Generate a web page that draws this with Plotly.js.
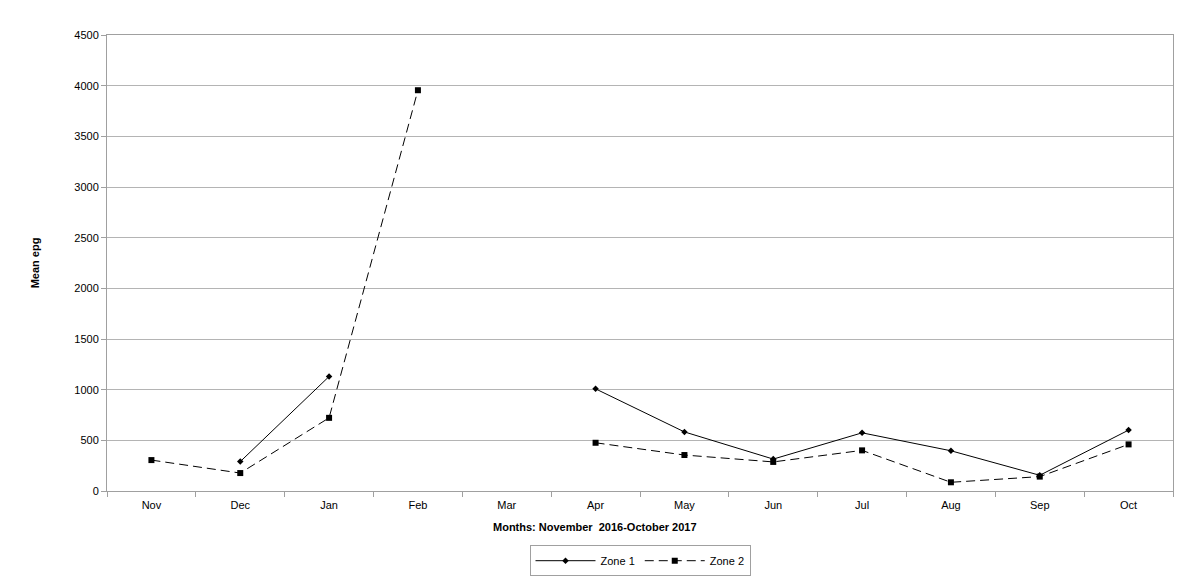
<!DOCTYPE html>
<html>
<head>
<meta charset="utf-8">
<script src="https://cdn.plot.ly/plotly-3.0.1.min.js"></script>
<style>
  html, body { margin: 0; padding: 0; background: #fff; }
  #graphDiv { width: 1200px; height: 580px; }
</style>
</head>
<body>
<div id="graphDiv"></div>
<script>
// months Nov 2016 - Oct 2017
const months = ['Nov', 'Dec', 'Jan', 'Feb', 'Mar', 'Apr', 'May', 'Jun', 'Jul', 'Aug', 'Sep', 'Oct'];
const zone1 = [null, 290, 1130, null, null, 1008, 583, 315, 574, 397, 155, 601];
const zone2 = [305, 177, 722, 3955, null, 476, 355, 287, 401, 86, 142, 460];
const yTicks = [0, 500, 1000, 1500, 2000, 2500, 3000, 3500, 4000, 4500];

drawGraph();

function drawGraph(){
  const trace1 = {
    x: months,
    y: zone1,
    mode: 'lines+markers',
    type: 'scatter',
    name: 'Zone 1',
    line: {color: '#000', width: 1},
    marker: {symbol: 'diamond', size: 5, color: '#000'},
    connectgaps: false
  };

  const trace2 = {
    x: months,
    y: zone2,
    mode: 'lines+markers',
    type: 'scatter',
    name: 'Zone 2',
    line: {color: '#000', width: 1, dash: '9px,5px'},
    marker: {symbol: 'square', size: 6, color: '#000'},
    connectgaps: false
  };

  const font = {family: 'Liberation Sans, Arial, sans-serif', size: 11, color: '#000'};

  let layout = {
    width: 1200,
    height: 580,
    margin: {l: 107, r: 27, t: 35, b: 89},
    paper_bgcolor: '#fff',
    plot_bgcolor: '#fff',
    font: font,
    showlegend: true,
    legend: {
      orientation: 'h',
      xref: 'paper', yref: 'container',
      x: 0.5, xanchor: 'center',
      y: 0.06, yanchor: 'top',
      bordercolor: '#a0a0a0',
      borderwidth: 1,
      font: font,
      itemwidth: 60
    },
    // x title sits left of centre in the original
    annotations: [{
      text: '<b>Months: November  2016-October 2017</b>',
      xref: 'paper', yref: 'paper',
      x: 0.458, y: -0.079,
      xanchor: 'center', yanchor: 'middle',
      showarrow: false,
      font: font
    }],
    xaxis: {
      type: 'category',
      categoryorder: 'array',
      categoryarray: months,
      range: [-0.5, 11.5],
      tickson: 'boundaries',
      ticks: 'outside',
      ticklen: 5,
      tickcolor: '#a0a0a0',
      ticklabelstandoff: 4,
      showline: true,
      linecolor: '#a0a0a0',
      mirror: true,
      showgrid: false,
      zeroline: false,
      tickfont: font
    },
    yaxis: {
      range: [0, 4500],
      tickvals: yTicks,
      ticks: 'outside',
      ticklen: 5,
      tickcolor: '#a0a0a0',
      showline: true,
      linecolor: '#a0a0a0',
      mirror: true,
      showgrid: true,
      gridcolor: '#b4b4b4',
      zeroline: false,
      tickfont: font,
      title: {
        text: '<b>Mean epg</b>',
        font: font,
        standoff: 32
      }
    }
  };

  Plotly.newPlot('graphDiv', [trace1, trace2], layout, {staticPlot: true});
}
</script>
</body>
</html>
